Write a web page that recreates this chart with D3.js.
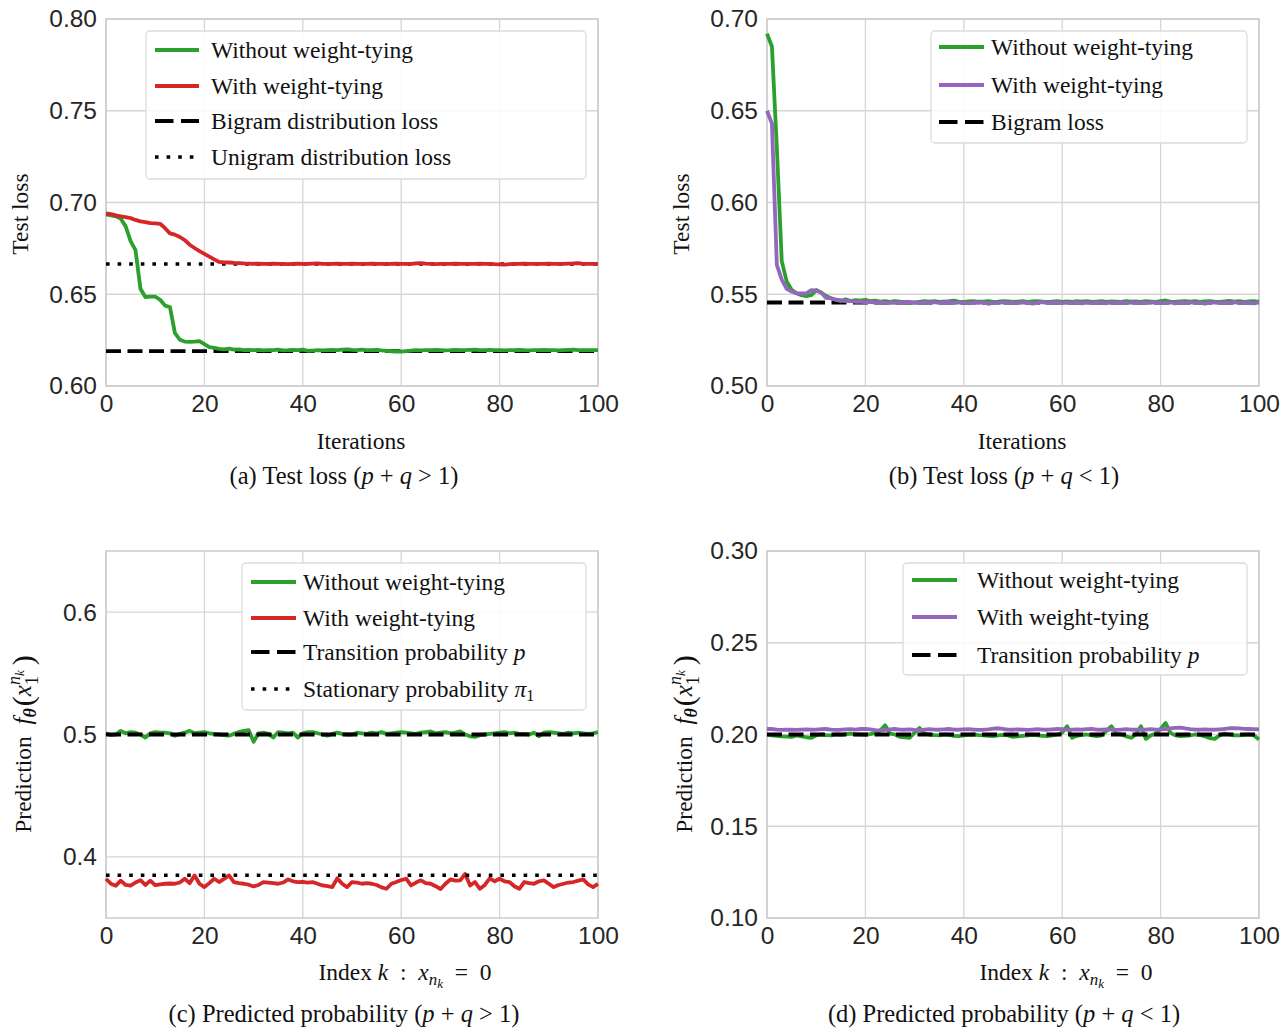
<!DOCTYPE html>
<html><head><meta charset="utf-8">
<script src="https://cdn.jsdelivr.net/npm/d3@7"></script>
<style>
body{margin:0;background:#fff}
svg{display:block}
text{white-space:pre}
</style></head><body>
<svg id="fig" width="1282" height="1030"></svg>
<script>
// ---- (a) test loss, p+q>1 ----
const lossA_untied = [
  .6935,.6930,.6925,.6912,.6870,.6790,.6740,.6530,.6485,.6487,.6487,.6470,.6438,.6430,.6290,.6252,.6242,.6240,.6242,.6245,.6228,.6212,.6208,.6202,.6200,
  .6204,.6198,.6200,.6196,.6197,.6195,.6197,.6194,.6196,.6195,.6198,.6194,.6195,.6197,.6195,.6198,.6192,.6193,.6195,.6194,.6196,.6197,.6195,.6198,.6200,
  .6197,.6196,.6198,.6195,.6196,.6197,.6194,.6192,.6189,.6188,.6187,.6190,.6193,.6195,.6194,.6196,.6195,.6197,.6196,.6194,.6195,.6197,.6196,.6195,.6197,
  .6198,.6196,.6195,.6197,.6196,.6195,.6194,.6195,.6196,.6197,.6195,.6194,.6196,.6195,.6197,.6196,.6195,.6194,.6196,.6197,.6198,.6196,.6195,.6196,.6195,.6196];
const lossA_tied = [
  .6940,.6937,.6930,.6925,.6920,.6915,.6905,.6897,.6893,.6888,.6886,.6884,.6860,.6832,.6825,.6812,.6795,.6770,.6752,.6735,.6720,.6705,.6690,.6676,.6674,
  .6673,.6671,.6670,.6668,.6667,.6666,.6667,.6665,.6666,.6667,.6665,.6666,.6664,.6666,.6667,.6665,.6666,.6667,.6668,.6666,.6665,.6666,.6667,.6665,.6666,
  .6667,.6665,.6666,.6665,.6667,.6666,.6665,.6664,.6666,.6667,.6666,.6665,.6666,.6668,.6670,.6667,.6665,.6664,.6666,.6665,.6666,.6667,.6665,.6666,.6665,
  .6666,.6667,.6665,.6666,.6664,.6663,.6661,.6664,.6666,.6665,.6667,.6666,.6665,.6666,.6665,.6667,.6666,.6665,.6666,.6667,.6668,.6670,.6666,.6665,.6666,.6665];
const bigramLossA = 0.619;
const unigramLossA = 0.6665;

// ---- (b) test loss, p+q<1 ----
const lossB_untied = [
  .692,.685,.630,.568,.557,.5525,.5505,.5495,.5490,.5495,.5523,.5510,.5490,.5478,.5470,.5462,.5472,.5462,.5468,.5465,.5470,.5462,.5465,.5460,.5463,
  .5458,.5462,.5460,.5455,.5452,.5455,.5458,.5462,.5460,.5463,.5458,.5460,.5462,.5465,.5460,.5458,.5461,.5463,.5459,.5460,.5462,.5458,.5460,.5463,.5461,
  .5458,.5460,.5462,.5459,.5461,.5463,.5460,.5457,.5460,.5462,.5458,.5461,.5459,.5462,.5460,.5463,.5458,.5460,.5462,.5459,.5461,.5460,.5458,.5462,.5460,
  .5461,.5459,.5462,.5460,.5458,.5463,.5466,.5460,.5458,.5461,.5463,.5460,.5462,.5459,.5461,.5463,.5460,.5458,.5461,.5464,.5460,.5462,.5459,.5461,.5463,.5458];
const lossB_tied = [
  .650,.643,.566,.558,.553,.5515,.5505,.5505,.5505,.5522,.5520,.5510,.5480,.5478,.5470,.5468,.5462,.5465,.5458,.5460,.5456,.5458,.5455,.5457,.5452,
  .5455,.5453,.5456,.5454,.5457,.5455,.5452,.5456,.5454,.5457,.5453,.5455,.5458,.5452,.5456,.5454,.5450,.5455,.5453,.5456,.5448,.5454,.5452,.5457,.5453,
  .5455,.5451,.5456,.5454,.5449,.5455,.5457,.5452,.5454,.5456,.5451,.5455,.5453,.5457,.5450,.5455,.5452,.5456,.5454,.5451,.5455,.5453,.5457,.5452,.5454,
  .5456,.5451,.5455,.5453,.5457,.5452,.5454,.5456,.5450,.5455,.5453,.5457,.5452,.5455,.5449,.5454,.5456,.5452,.5455,.5453,.5457,.5451,.5455,.5453,.5450,.5456];
const bigramLossB = 0.5455;

// ---- (c) predicted probability, p+q>1 ----
const probC_untied = [
  .501,.4995,.500,.503,.501,.502,.5015,.500,.4975,.501,.502,.5015,.5015,.501,.499,.5005,.5015,.503,.501,.5015,.502,.501,.5005,.500,.4995,
  .499,.5005,.502,.503,.5035,.494,.501,.5015,.5005,.4975,.502,.5015,.501,.5015,.4975,.501,.502,.502,.501,.500,.499,.5005,.5015,.5005,.500,
  .500,.5015,.501,.5005,.5015,.501,.502,.5005,.501,.5015,.502,.5015,.501,.5005,.5015,.502,.5025,.501,.5015,.502,.501,.5015,.5025,.500,.4985,
  .498,.4995,.500,.5005,.501,.5015,.502,.501,.5015,.5005,.5005,.500,.5015,.4985,.5015,.502,.5015,.501,.5005,.5015,.501,.5015,.501,.5005,.501,.502];
const probC_tied = [
  .3821,.3780,.3764,.3805,.3770,.3764,.3790,.3810,.3770,.3805,.3768,.3775,.3780,.3782,.3780,.3790,.3821,.3785,.3848,.3780,.3753,.3785,.3821,.3794,.3820,
  .3848,.3794,.3785,.3780,.3772,.3758,.3770,.3794,.3790,.3785,.3780,.3790,.3815,.3800,.3794,.3796,.3790,.3794,.3780,.3766,.3760,.3753,.3824,.3780,.3753,
  .3794,.3790,.3780,.3785,.3780,.3770,.3750,.3739,.3780,.3794,.3810,.3821,.3766,.3790,.3808,.3785,.3780,.3760,.3737,.3780,.3815,.3805,.3808,.3860,.3766,
  .3794,.3739,.3770,.3824,.3800,.3821,.3800,.3794,.3760,.3739,.3794,.3785,.3780,.3800,.3808,.3780,.3753,.3770,.3780,.3790,.3794,.3805,.3815,.3775,.3753,.3780];
const transitionC = 0.5;
const stationaryC = 0.385;

// ---- (d) predicted probability, p+q<1 ----
const probD_untied = [
  .2000,.1995,.1993,.1990,.1988,.1987,.1995,.1990,.1985,.1982,.1995,.2000,.1997,.1995,.2000,.1998,.2002,.2005,.2001,.2000,.1998,.2002,.2009,.2020,.2051,
  .2005,.2000,.1987,.1985,.1982,.2010,.2036,.2005,.2000,.1997,.1995,.2000,.1998,.1993,.1991,.1995,.1998,.2000,.1997,.1995,.1993,.1991,.1995,.1998,.1995,
  .1987,.1990,.1993,.1995,.1998,.1995,.1993,.1991,.1995,.2000,.2010,.2045,.1982,.1993,.1998,.2000,.1995,.1991,.1995,.2020,.2045,.2005,.2000,.1990,.1982,
  .2000,.2045,.1976,.1995,.2005,.2030,.2063,.2009,.1995,.1991,.1993,.1995,.2000,.1998,.1990,.1980,.1976,.1995,.2005,.2000,.1995,.1995,.1998,.2000,.1995,.1973];
const probD_tied = [
  .2030,.2030,.2027,.2025,.2027,.2026,.2025,.2027,.2028,.2026,.2027,.2029,.2030,.2027,.2025,.2026,.2028,.2029,.2027,.2030,.2031,.2028,.2024,.2022,.2025,
  .2028,.2030,.2027,.2026,.2028,.2025,.2023,.2027,.2029,.2027,.2026,.2028,.2030,.2027,.2026,.2028,.2029,.2027,.2025,.2026,.2028,.2032,.2034,.2030,.2027,
  .2026,.2028,.2027,.2025,.2027,.2029,.2027,.2026,.2028,.2030,.2029,.2026,.2027,.2028,.2026,.2029,.2031,.2027,.2026,.2028,.2027,.2025,.2027,.2029,.2027,
  .2026,.2028,.2027,.2029,.2027,.2028,.2030,.2033,.2036,.2038,.2033,.2029,.2027,.2026,.2028,.2027,.2026,.2028,.2030,.2034,.2035,.2033,.2031,.2030,.2029,.2028];
const transitionD = 0.2;

// ---- ticks ----
const xTicks = [0, 20, 40, 60, 80, 100];
const yTicksA = [0.60, 0.65, 0.70, 0.75, 0.80];
const yTicksB = [0.50, 0.55, 0.60, 0.65, 0.70];
const yTicksC = [0.4, 0.5, 0.6];
const yTicksD = [0.10, 0.15, 0.20, 0.25, 0.30];

const GREEN = "#2ca02c", RED = "#d62728", PURPLE = "#9467bd";
const SERIF = '"Liberation Serif","Times New Roman",serif';
const SANS = '"Liberation Sans",Arial,sans-serif';
const LW = 3.8;
const DASH = "15,6.5", DOT = "3.6,8";
const LEG_DASH = "18.5,7.5";

const svg = d3.select("#fig");
const PW = 492, PH = 367;

// rich text: list of parts {t, i, b, fs, dx, dy}
function rich(sel, parts) {
  parts.forEach(p => {
    const s = sel.append("tspan").text(p.t);
    if (p.i) s.attr("font-style", "italic");
    if (p.b) s.attr("font-weight", "bold");
    if (p.fs) s.attr("font-size", p.fs);
    if (p.dx) s.attr("dx", p.dx);
    if (p.dy) s.attr("dy", p.dy);
  });
  return sel;
}

function panel(cfg) {
  const g = svg.append("g").attr("transform", `translate(${cfg.left},${cfg.top})`);
  const x = d3.scaleLinear().domain([0, 100]).range([0, PW]);
  const y = d3.scaleLinear().domain(cfg.yDomain).range([PH, 0]);

  // grid
  g.append("g").selectAll("line").data(xTicks).join("line")
    .attr("x1", d => x(d)).attr("x2", d => x(d)).attr("y1", 0).attr("y2", PH)
    .attr("stroke", "#d6d6d6").attr("stroke-width", 1.3);
  g.append("g").selectAll("line").data(cfg.yTicks).join("line")
    .attr("x1", 0).attr("x2", PW).attr("y1", d => y(d)).attr("y2", d => y(d))
    .attr("stroke", "#d6d6d6").attr("stroke-width", 1.3);
  g.append("rect").attr("width", PW).attr("height", PH)
    .attr("fill", "none").attr("stroke", "#cccccc").attr("stroke-width", 1.5);

  // axes
  const ax = g.append("g").attr("transform", `translate(0,${PH})`)
    .call(d3.axisBottom(x).tickValues(xTicks).tickSize(0).tickPadding(9).tickFormat(d3.format("d")));
  const ay = g.append("g")
    .call(d3.axisLeft(y).tickValues(cfg.yTicks).tickSize(0).tickPadding(9).tickFormat(d3.format(cfg.yFmt)));
  [ax, ay].forEach(a => {
    a.select(".domain").remove();
    a.selectAll("text").attr("font-family", SANS).attr("font-size", 24.5).attr("fill", "#262626");
  });

  const line = d3.line().x((d, i) => x(i)).y(d => y(d));
  const drawRefs = () => cfg.refs.forEach(r => {
    g.append("line").attr("x1", x(0)).attr("x2", x(100)).attr("y1", y(r.v)).attr("y2", y(r.v))
      .attr("stroke", "#000").attr("stroke-width", r.dash === DOT ? 3.6 : 3.8)
      .attr("stroke-dasharray", r.dash);
  });
  if (!cfg.refsOnTop) drawRefs();
  cfg.series.forEach(s => {
    g.append("path").datum(s.values).attr("d", line).attr("fill", "none")
      .attr("stroke", s.color).attr("stroke-width", LW).attr("stroke-linejoin", "round");
  });
  if (cfg.refsOnTop) drawRefs();

  // legend
  const L = cfg.legend;
  const lg = g.append("g");
  lg.append("rect").attr("x", L.box[0]).attr("y", L.box[1])
    .attr("width", L.box[2] - L.box[0]).attr("height", L.box[3] - L.box[1])
    .attr("rx", 4).attr("fill", "#fff").attr("fill-opacity", 0.85)
    .attr("stroke", "#dcdcdc").attr("stroke-width", 1.3);
  L.items.forEach((it, k) => {
    const ry = L.rows[k];
    const dash = it.dash === DASH ? LEG_DASH : it.dash;
    lg.append("line").attr("x1", L.h[0]).attr("x2", L.h[1]).attr("y1", ry).attr("y2", ry)
      .attr("stroke", it.color || "#000").attr("stroke-width", it.dash === DOT ? 3.6 : LW)
      .attr("stroke-dasharray", dash || null);
    rich(lg.append("text").attr("x", L.tx).attr("y", ry + 7.5)
      .attr("font-family", SERIF).attr("font-size", 23.5).attr("fill", "#111"), it.label);
  });

  // x label
  rich(svg.append("text").attr("x", cfg.xl[0]).attr("y", cfg.xl[1]).attr("text-anchor", "middle")
    .attr("font-family", SERIF).attr("font-size", 23.5).attr("fill", "#111"), cfg.xlabel);
  // y label
  rich(svg.append("text").attr("transform", `translate(${cfg.yl[0]},${cfg.yl[1]}) rotate(-90)`)
    .attr("text-anchor", "middle").attr("font-family", SERIF).attr("font-size", 23.5).attr("fill", "#111"), cfg.ylabel);
  // caption
  rich(svg.append("text").attr("x", cfg.cap[0]).attr("y", cfg.cap[1]).attr("text-anchor", "middle")
    .attr("font-family", SERIF).attr("font-size", 24.5).attr("fill", "#111"), cfg.caption);
}

const iterLabel = [{t: "Iterations"}];
const lossLabel = [{t: "Test loss"}];
const indexLabel = [{t: "Index "}, {t: "k", i: 1}, {t: "\u2002:\u2002"}, {t: "x", i: 1},
  {t: "n", i: 1, fs: 17, dy: 5}, {t: "k", i: 1, fs: 13, dy: 3}, {t: "\u2002=\u20020", dy: -8}];
const predLabel = [{t: "Prediction  "}, {t: "f", i: 1, fs: 25}, {t: "θ", i: 1, b: 1, fs: 18, dy: 5},
  {t: "(", fs: 30, dx: 2, dy: -3}, {t: "x", i: 1, fs: 25, dy: -2}, {t: "1", fs: 18, dy: 7},
  {t: "n", i: 1, fs: 18, dx: -9, dy: -18}, {t: "k", i: 1, fs: 13, dy: 4},
  {t: ")", fs: 30, dx: 5, dy: 9}];
const capParts = (tag, name, rel) => [{t: `(${tag}) ${name} (`}, {t: "p", i: 1}, {t: " + "}, {t: "q", i: 1}, {t: ` ${rel} 1)`}];

panel({
  left: 106, top: 19, yDomain: [0.60, 0.80], yTicks: yTicksA, yFmt: ".2f",
  series: [{values: lossA_untied, color: GREEN}, {values: lossA_tied, color: RED}],
  refs: [{v: bigramLossA, dash: DASH}, {v: unigramLossA, dash: DOT}], refsOnTop: false,
  legend: {box: [40, 12, 480, 160], h: [49, 93], tx: 105, rows: [31, 67, 102, 138],
    items: [{color: GREEN, label: [{t: "Without weight-tying"}]}, {color: RED, label: [{t: "With weight-tying"}]},
      {dash: DASH, label: [{t: "Bigram distribution loss"}]}, {dash: DOT, label: [{t: "Unigram distribution loss"}]}]},
  xlabel: iterLabel, xl: [361, 449], ylabel: lossLabel, yl: [28, 214],
  caption: capParts("a", "Test loss", ">"), cap: [344, 484]
});
panel({
  left: 767, top: 19, yDomain: [0.50, 0.70], yTicks: yTicksB, yFmt: ".2f",
  series: [{values: lossB_untied, color: GREEN}, {values: lossB_tied, color: PURPLE}],
  refs: [{v: bigramLossB, dash: DASH}], refsOnTop: false,
  legend: {box: [164, 12, 480, 124], h: [172, 217], tx: 224, rows: [28, 66, 103],
    items: [{color: GREEN, label: [{t: "Without weight-tying"}]}, {color: PURPLE, label: [{t: "With weight-tying"}]},
      {dash: DASH, label: [{t: "Bigram loss"}]}]},
  xlabel: iterLabel, xl: [1022, 449], ylabel: lossLabel, yl: [689, 214],
  caption: capParts("b", "Test loss", "<"), cap: [1004, 484]
});
panel({
  left: 106, top: 551, yDomain: [0.35, 0.65], yTicks: yTicksC, yFmt: ".1f",
  series: [{values: probC_untied, color: GREEN}, {values: probC_tied, color: RED}],
  refs: [{v: transitionC, dash: DASH}, {v: stationaryC, dash: DOT}], refsOnTop: true,
  legend: {box: [136, 12, 480, 159], h: [145, 190], tx: 197, rows: [31, 67, 101, 138],
    items: [{color: GREEN, label: [{t: "Without weight-tying"}]}, {color: RED, label: [{t: "With weight-tying"}]},
      {dash: DASH, label: [{t: "Transition probability "}, {t: "p", i: 1}]},
      {dash: DOT, label: [{t: "Stationary probability "}, {t: "π", i: 1}, {t: "1", fs: 16, dy: 4}]}]},
  xlabel: indexLabel, xl: [405, 980], ylabel: predLabel, yl: [31, 744],
  caption: capParts("c", "Predicted probability", ">"), cap: [344, 1022]
});
panel({
  left: 767, top: 551, yDomain: [0.10, 0.30], yTicks: yTicksD, yFmt: ".2f",
  series: [{values: probD_untied, color: GREEN}, {values: probD_tied, color: PURPLE}],
  refs: [{v: transitionD, dash: DASH}], refsOnTop: true,
  legend: {box: [136, 12, 480, 124], h: [145, 190], tx: 210, rows: [29, 66, 104],
    items: [{color: GREEN, label: [{t: "Without weight-tying"}]}, {color: PURPLE, label: [{t: "With weight-tying"}]},
      {dash: DASH, label: [{t: "Transition probability "}, {t: "p", i: 1}]}]},
  xlabel: indexLabel, xl: [1066, 980], ylabel: predLabel, yl: [692, 744],
  caption: capParts("d", "Predicted probability", "<"), cap: [1004, 1022]
});
</script>
</body></html>
